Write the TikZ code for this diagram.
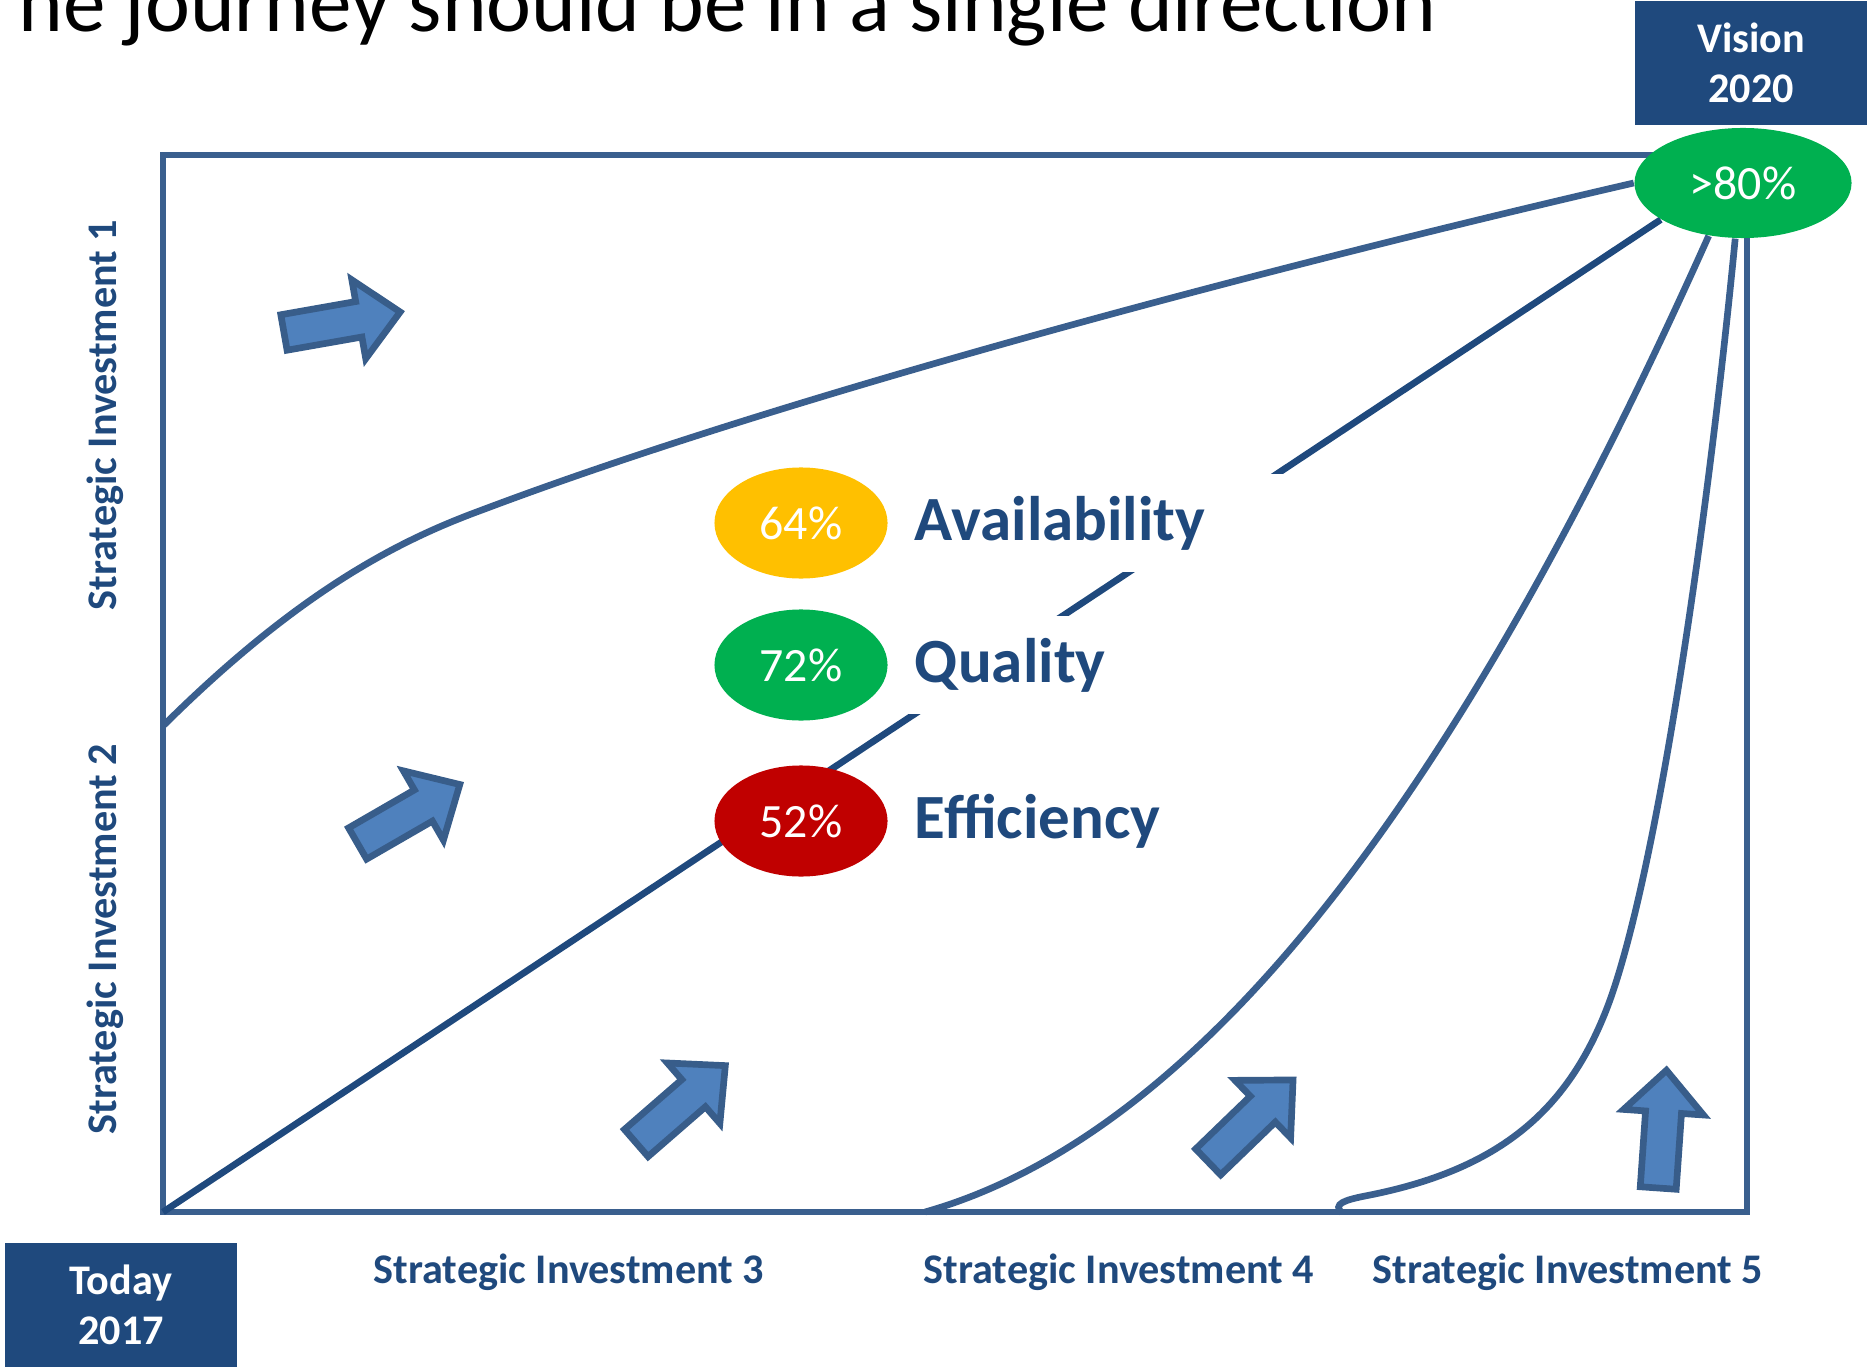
\documentclass[tikz,border=0pt]{standalone}
\usepackage{fontspec}
\setmainfont{Carlito}
\usetikzlibrary{shapes.geometric,positioning,backgrounds}
\definecolor{navy}{HTML}{1F497D}
\definecolor{lineblue}{HTML}{3A5F8E}
\definecolor{arrowfill}{HTML}{4F81BD}
\definecolor{arrowdraw}{HTML}{385D8A}
\definecolor{kpigreen}{HTML}{00B050}
\definecolor{kpigold}{HTML}{FFC000}
\definecolor{kpired}{HTML}{C00000}

\begin{document}
\begin{tikzpicture}[x=0.01cm,y=-0.01cm,
	track/.style={draw=lineblue, line width=1.9pt},
	yearbox/.style={fill=navy, text=white, font=\bfseries\fontsize{12}{14.2}\selectfont, align=center, minimum width=2.31cm, minimum height=1.23cm, inner sep=0pt},
	kpi/.style={ellipse, text=white, font=\fontsize{13.6}{15}\selectfont, minimum width=1.73cm, minimum height=1.11cm, inner sep=0pt},
	kpilabel/.style={fill=white, text=navy, font=\bfseries\fontsize{17.9}{20}\selectfont, text width=3.8cm, minimum height=0.97cm, inner xsep=0.13cm, inner ysep=0pt},
	axislabel/.style={text=navy, font=\bfseries\fontsize{12}{14}\selectfont, inner sep=0pt},
	blockarrow/.pic={\draw[draw=arrowdraw, fill=arrowfill, line width=1.9pt, line join=miter] (3,-18) -- (79,-18) -- (79,-40) -- (121,0) -- (79,40) -- (79,18) -- (3,18) -- cycle;}
]
	\useasboundingbox (0,0) rectangle (1867,1367);
	\clip (0,0) rectangle (1867,1367);
	% title, cut at the top
	\node[anchor=base west, inner sep=0pt, font=\fontsize{24.2}{29}\selectfont] (title) at (18,32) {he journey should be in a single direction};
	% frame corners and start points
	\coordinate (bl) at (163,1212);
	\coordinate (tr) at (1747,155);
	\coordinate (s1) at (163,726);
	\coordinate (s4) at (925,1212);
	\coordinate (s5) at (1342,1213);
	\node[yearbox] (vision) at (1751,63) {Vision\\2020};
	\node[yearbox] (today) at (121,1305) {Today\\2017};
	\node[kpi, fill=kpigreen, minimum width=2.17cm, minimum height=1.1cm] (goal) at (1743,183) {>80\%};
	\node[kpi, fill=kpigold] (avail) at (801,523) {64\%};
	\node[kpi, fill=kpigreen] (qual) at (801,665) {72\%};
	\node[kpi, fill=kpired] (eff) at (801,821) {52\%};
	\node[kpilabel, right=0.13cm of avail] (availlbl) {Availability};
	\node[kpilabel, right=0.13cm of qual] (quallbl) {Quality};
	\node[kpilabel, right=0.13cm of eff] (efflbl) {Efficiency};
	\node[axislabel, rotate=90] (si1) at (105,415) {Strategic Investment 1};
	\node[axislabel, rotate=90] (si2) at (105,939) {Strategic Investment 2};
	\node[axislabel] (si3) at (569,1272) {Strategic Investment 3};
	\node[axislabel] (si4) at (1119,1272) {Strategic Investment 4};
	\node[axislabel] (si5) at (1568,1272) {Strategic Investment 5};
	% paths towards the vision
	\begin{scope}[on background layer]
		\draw[track] (bl) rectangle (tr);
		\draw[track] (s1) .. controls (300,590) and (400,540) .. (482,510) .. controls (800,390) and (1300,260) .. (goal.west);
		\draw[track, draw=navy] (bl) -- (goal.204);
		\draw[track] (s4) .. controls (1250,1120) and (1510,680) .. (goal.237);
		\draw[track] (s5) .. controls (1332,1204) and (1345,1200) .. (1365,1196) .. controls (1500,1170) and (1570,1110) .. (1610,1000) .. controls (1660,860) and (1710,500) .. (goal.262);
	\end{scope}
	% block arrows
	\pic[rotate=10] at (281,333) {blockarrow};
	\pic[rotate=30] at (355,845) {blockarrow};
	\pic[rotate=41] at (634,1145) {blockarrow};
	\pic[rotate=44] at (1206,1164) {blockarrow};
	\pic[rotate=86] at (1658,1191) {blockarrow};
\end{tikzpicture}
\end{document}
